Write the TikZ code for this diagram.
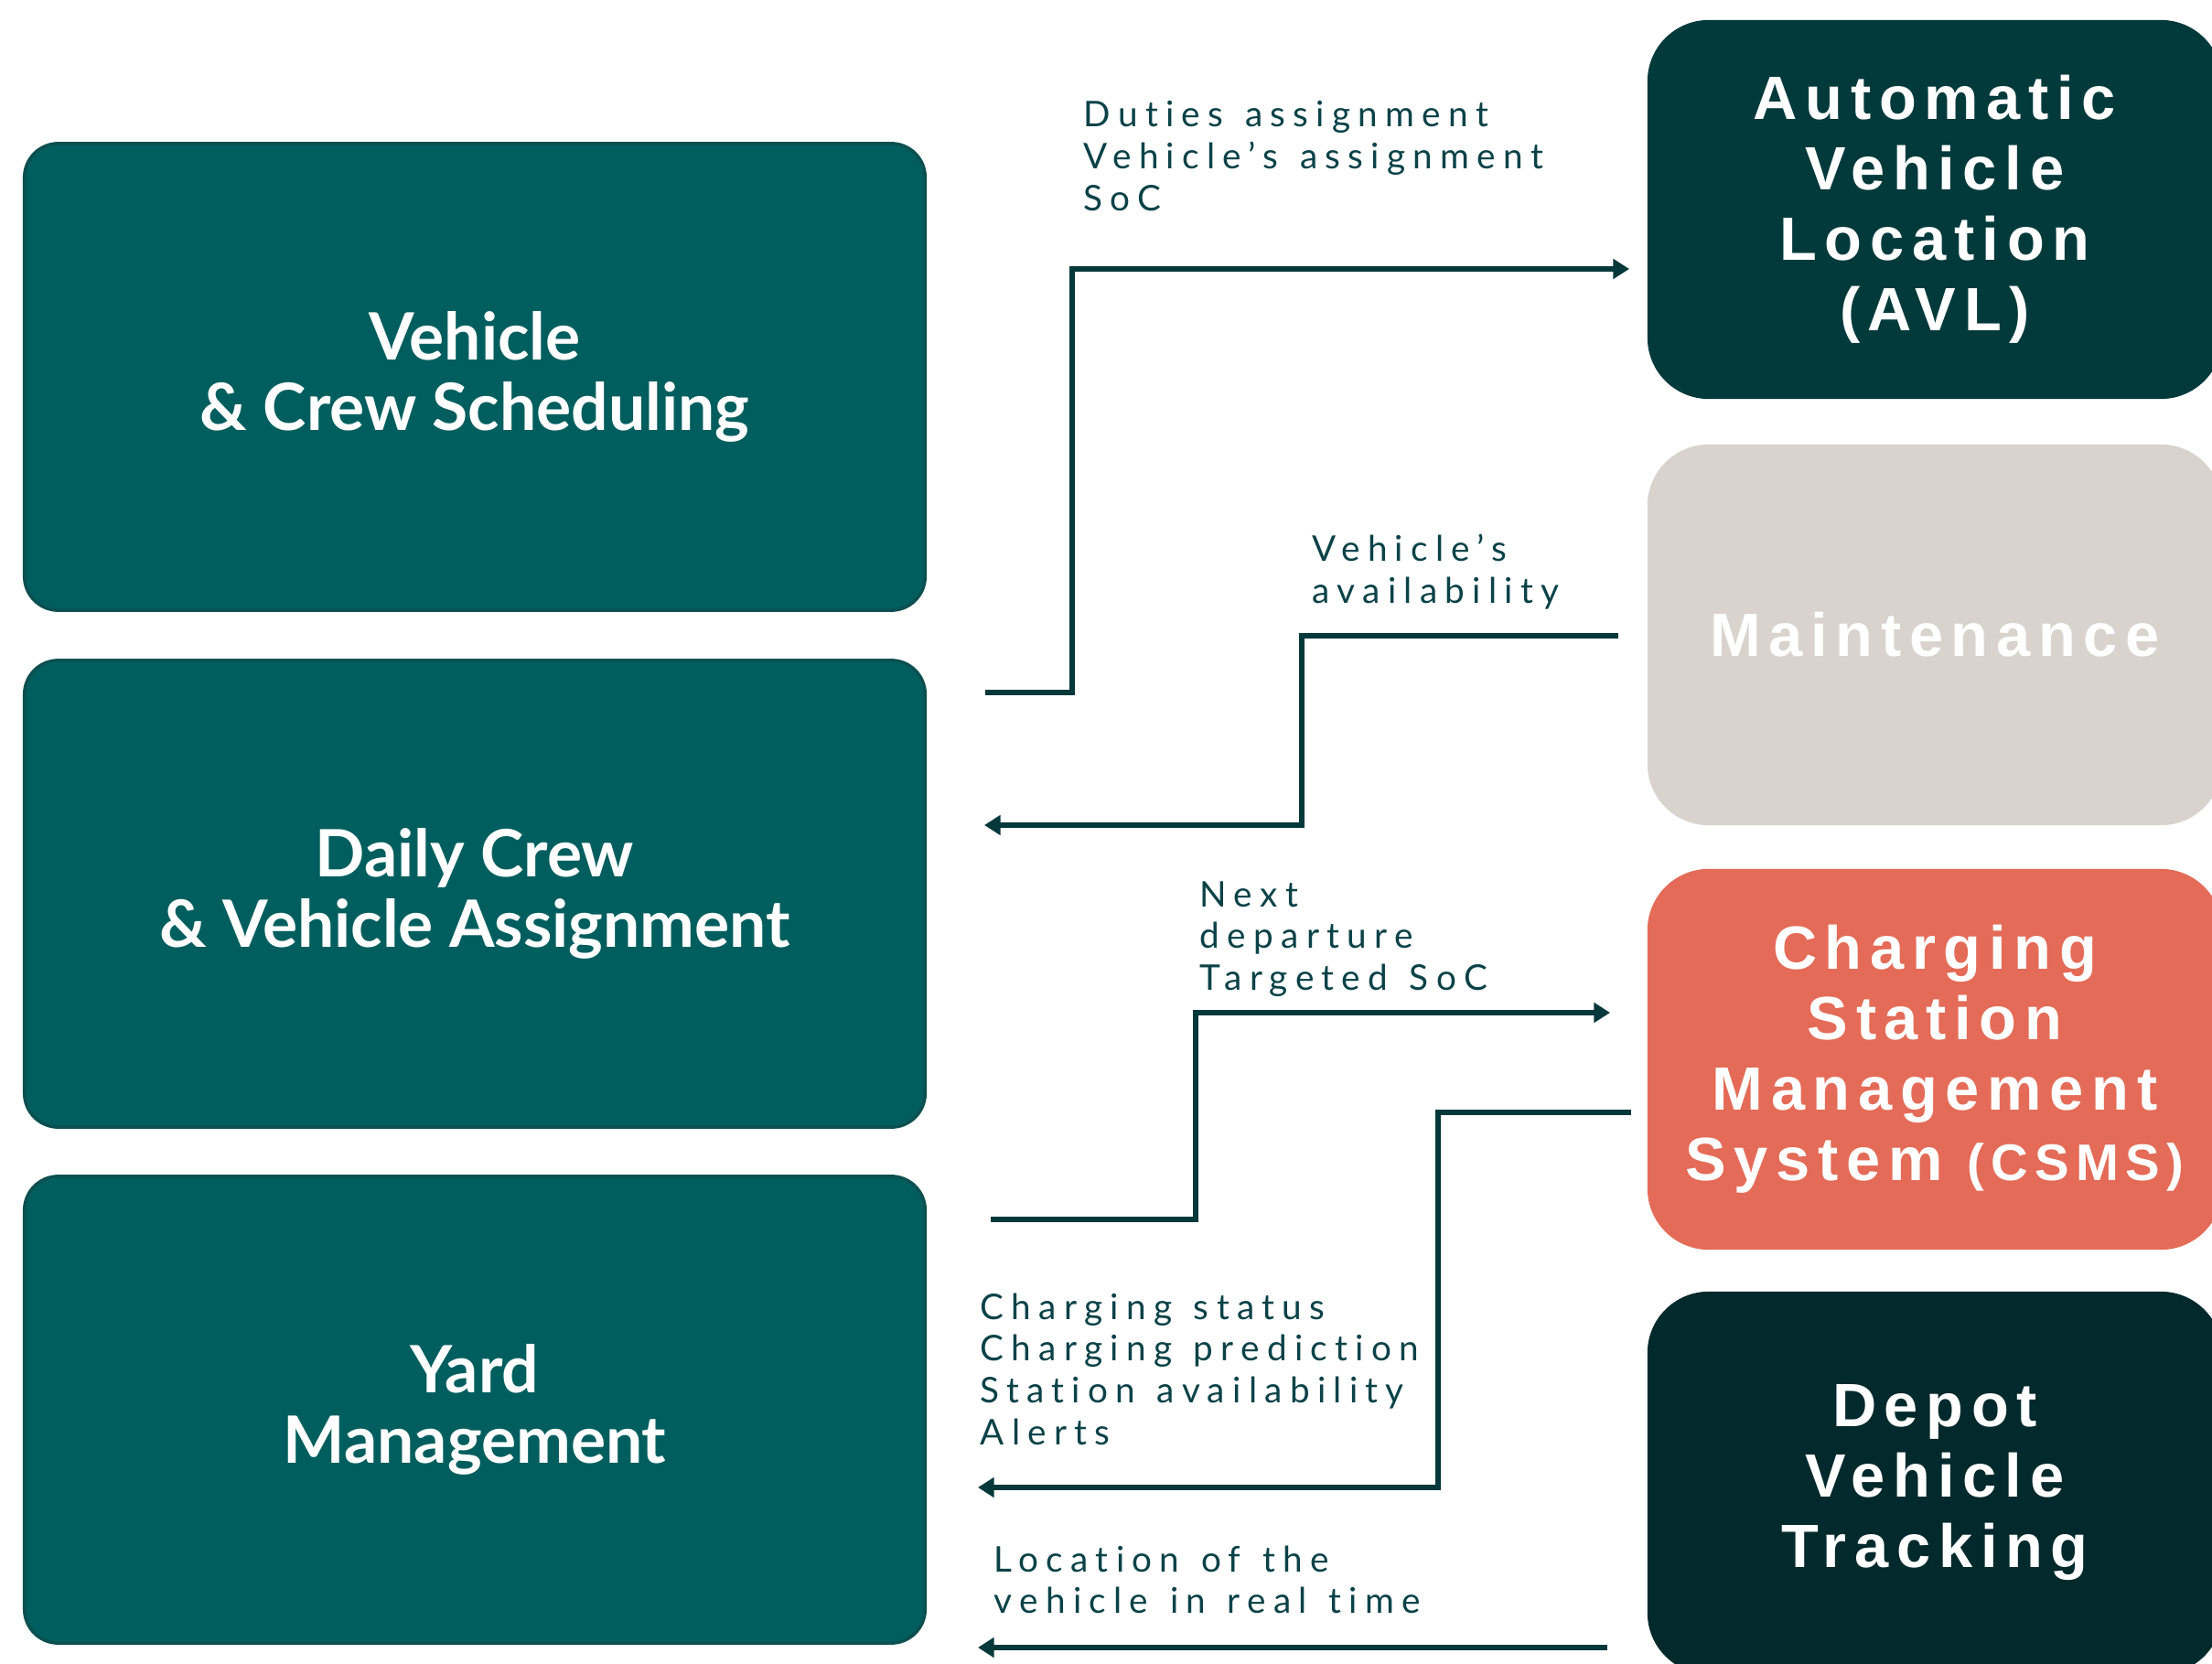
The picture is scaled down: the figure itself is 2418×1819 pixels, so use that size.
\documentclass[tikz,border=0pt]{standalone}
\usepackage{fontspec}
\usetikzlibrary{arrows.meta}

\newfontfamily\titlefont{Lato}[Ligatures=NoCommon]
\newfontfamily\sysfont{Liberation Sans}[LetterSpace=13]
\newfontfamily\labelfont{Lato}[LetterSpace=21.5,WordSpace=1.3,Ligatures=NoCommon]

\definecolor{teal}{HTML}{015E5E}
\definecolor{tealedge}{HTML}{0C4F50}
\definecolor{avlc}{HTML}{023A3C}
\definecolor{maintc}{HTML}{D8D3CD}
\definecolor{csmsc}{HTML}{E46B57}
\definecolor{depotc}{HTML}{02292C}
\definecolor{linec}{HTML}{04383A}
\definecolor{labelc}{HTML}{0B4248}

\begin{document}
\begin{tikzpicture}[x=0.01cm,y=-0.01cm,
  lbox/.style={rectangle, rounded corners=0.37cm, fill=teal, draw=tealedge,
    line width=1pt, minimum width=9.84cm, minimum height=5.10cm,
    text=white, align=center, inner sep=0pt,
    font=\fontsize{20.3}{22}\selectfont\titlefont\bfseries},
  rbox/.style={rectangle, rounded corners=0.67cm, minimum width=6.28cm,
    minimum height=4.16cm, text=white, align=center, inner sep=0pt,
    font=\fontsize{19}{21.9}\selectfont\sysfont\bfseries},
  flowlabel/.style={anchor=base west, inner sep=0pt, text=labelc,
    font=\fontsize{11}{13}\selectfont\labelfont},
  flow/.style={draw=linec, line width=1.5pt,
    -{Triangle[length=5pt,width=6pt]}}
]
\useasboundingbox (0,0) rectangle (2418,1819);
\clip (0,0) rectangle (2418,1819);
\fill[white] (0,0) rectangle (2418,1819);

% planning systems (left column)
\node[lbox] (vcs) at (519,412) {Vehicle\\\& Crew Scheduling};
\node[lbox] (dca) at (519,977) {Daily Crew\\\& Vehicle Assignment};
\node[lbox] (yard) at (519,1541) {Yard\\Management};

% operational systems (right column, running off the page)
\node[rbox, fill=avlc, minimum height=4.14cm] (avl) at (2115,229)
  {Automatic\\Vehicle\\Location\\(AVL)};
\node[rbox, fill=maintc] (maint) at (2115,694) {Maintenance};
\node[rbox, fill=csmsc] (csms) at (2115,1158)
  {Charging\\Station\\Management\\System {\fontsize{16}{21.9}\selectfont(CSMS)}};
\node[rbox, fill=depotc, minimum height=4.18cm] (depot) at (2115,1621)
  {Depot\\Vehicle\\Tracking};

% connector ends and bends
\coordinate (a1s) at (1077,757);
\coordinate (a1k) at (1172,294);
\coordinate (a1e) at (1781,294);
\coordinate (a2s) at (1769,695);
\coordinate (a2k) at (1423,902);
\coordinate (a2e) at (1076,902);
\coordinate (a3s) at (1083,1333);
\coordinate (a3k) at (1307,1107);
\coordinate (a3e) at (1760,1107);
\coordinate (a4s) at (1783,1216);
\coordinate (a4k) at (1572,1626);
\coordinate (a4e) at (1069,1626);
\coordinate (a5s) at (1757,1801);
\coordinate (a5e) at (1069,1801);

\draw[flow] (a1s) -| (a1k) -- (a1e);
\draw[flow] (a2s) -| (a2k) -- (a2e);
\draw[flow] (a3s) -| (a3k) -- (a3e);
\draw[flow] (a4s) -| (a4k) -- (a4e);
\draw[flow] (a5s) -- (a5e);

% data exchanged
\node[flowlabel] (l1) at (1184,139) {\begin{tabular}[t]{@{}l@{}}Duties assignment\\Vehicle’s assignment\\SoC\end{tabular}};
\node[flowlabel] (l2) at (1434,614) {\begin{tabular}[t]{@{}l@{}}Vehicle’s\\availability\end{tabular}};
\node[flowlabel] (l3) at (1311,991) {\begin{tabular}[t]{@{}l@{}}Next\\departure\\Targeted SoC\end{tabular}};
\node[flowlabel] (l4) at (1071,1442) {\begin{tabular}[t]{@{}l@{}}Charging status\\Charging prediction\\Station availability\\Alerts\end{tabular}};
\node[flowlabel] (l5) at (1086,1718) {\begin{tabular}[t]{@{}l@{}}Location of the\\vehicle in real time\end{tabular}};
\end{tikzpicture}
\end{document}
